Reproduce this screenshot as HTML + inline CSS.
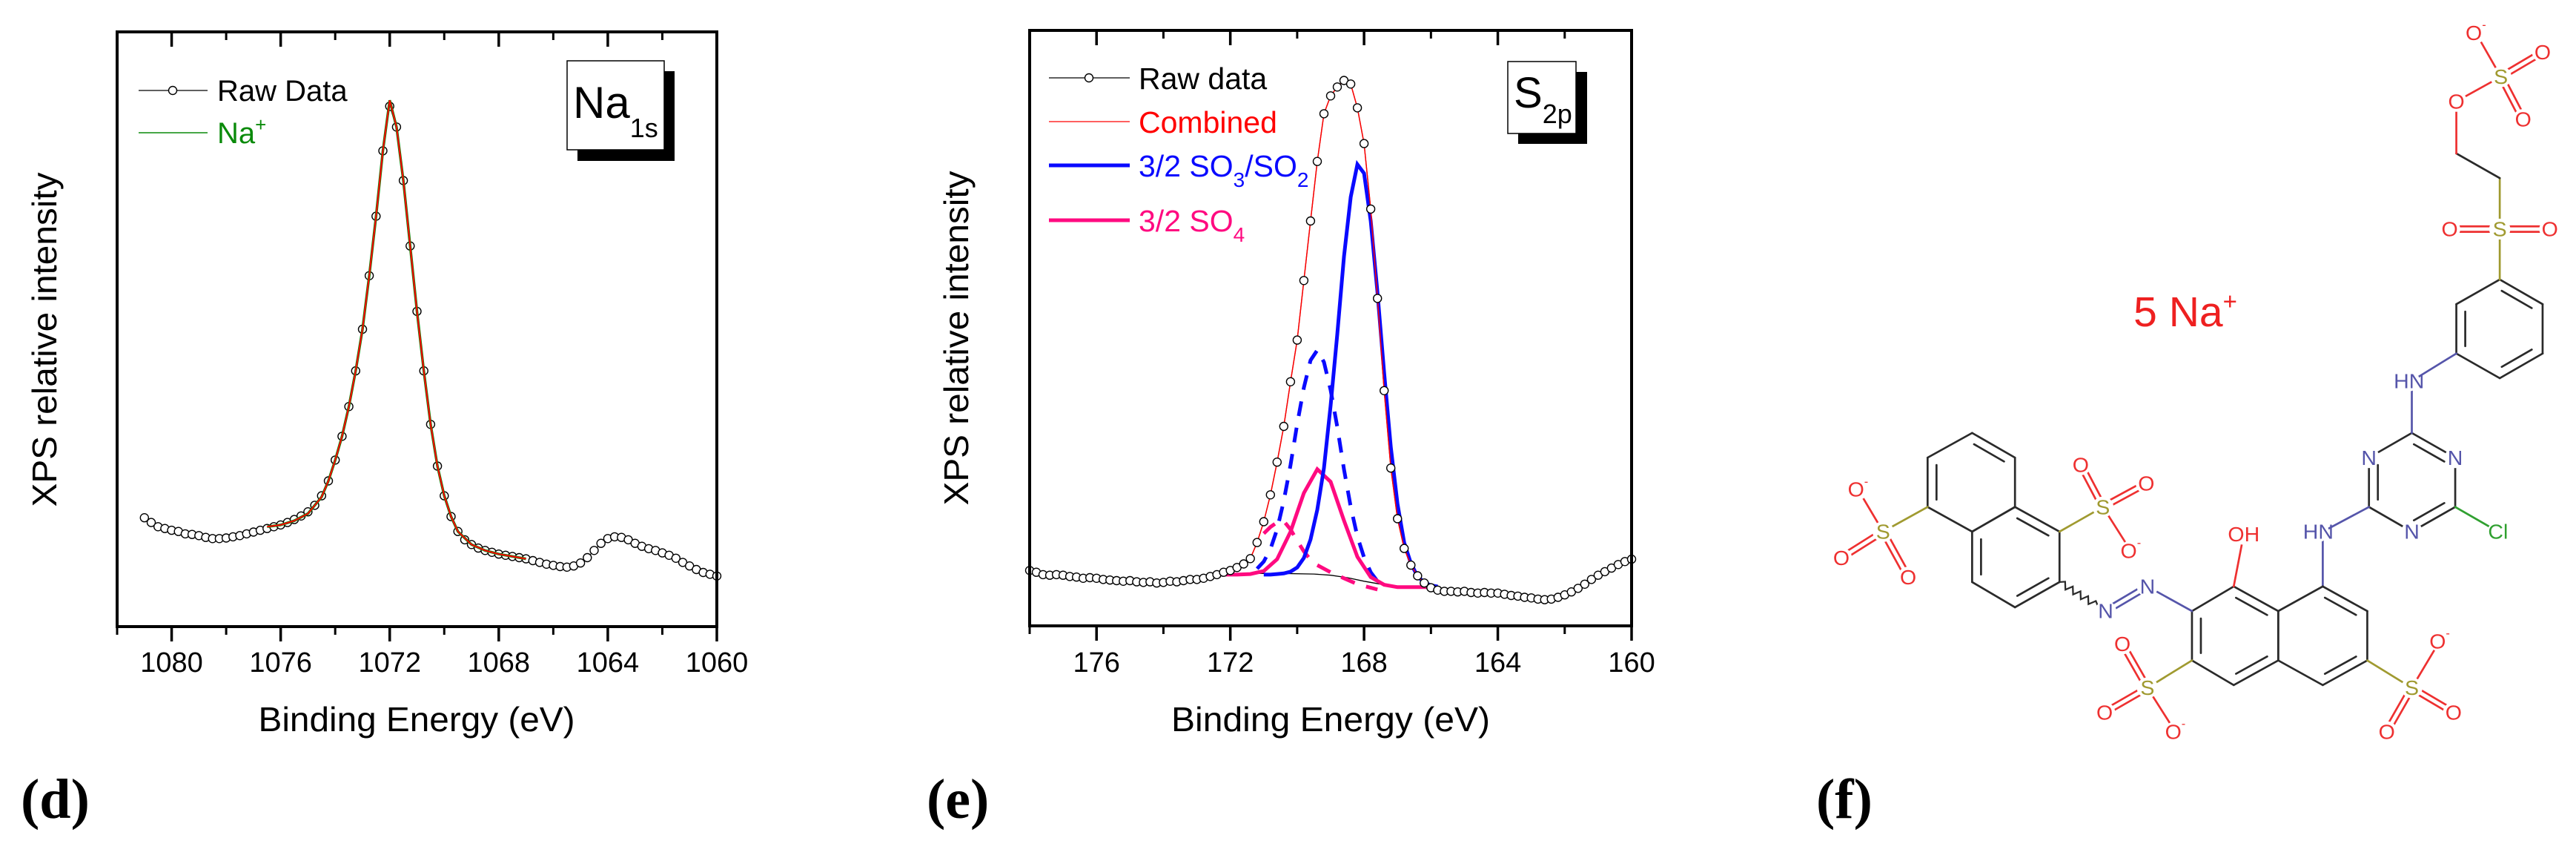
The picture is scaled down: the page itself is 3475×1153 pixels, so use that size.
<!DOCTYPE html>
<html><head><meta charset="utf-8"><style>
html,body{margin:0;padding:0;background:#fff;}
svg{display:block;font-family:"Liberation Sans",Arial,sans-serif;}
</style></head><body>
<svg id="fig" width="3475" height="1153" viewBox="0 0 3475 1153" xmlns="http://www.w3.org/2000/svg">
<rect x="0" y="0" width="3475" height="1153" fill="#fff"/>
<g id="panelD"></g>
<g id="panelE"></g>
<g id="mol" transform="translate(2300,0) scale(0.7508,0.7391)"></g>
<text x="28" y="1103" font-family="Liberation Serif,serif" font-weight="bold" font-size="76">(d)</text>
<text x="1250" y="1103" font-family="Liberation Serif,serif" font-weight="bold" font-size="76">(e)</text>
<text x="2450" y="1103" font-family="Liberation Serif,serif" font-weight="bold" font-size="76">(f)</text>
</svg>
<script>
// ---------- Panel d data (Na 1s) ----------
const naEnergy = [1081,1080.75,1080.5,1080.25,1080,1079.75,1079.5,1079.25,1079,1078.75,1078.5,1078.25,1078,1077.75,1077.5,1077.25,1077,1076.75,1076.5,1076.25,1076,1075.75,1075.5,1075.25,1075,1074.75,1074.5,1074.25,1074,1073.75,1073.5,1073.25,1073,1072.75,1072.5,1072.25,1072,1071.75,1071.5,1071.25,1071,1070.75,1070.5,1070.25,1070,1069.75,1069.5,1069.25,1069,1068.75,1068.5,1068.25,1068,1067.75,1067.5,1067.25,1067,1066.75,1066.5,1066.25,1066,1065.75,1065.5,1065.25,1065,1064.75,1064.5,1064.25,1064,1063.75,1063.5,1063.25,1063,1062.75,1062.5,1062.25,1062,1061.75,1061.5,1061.25,1061,1060.75,1060.5,1060.25,1060];
const naRaw = [18.3,17.5,16.8,16.5,16.2,16,15.6,15.5,15.3,15,14.8,14.8,14.9,15.1,15.3,15.6,15.9,16.2,16.5,16.8,17.1,17.5,18,18.6,19.3,20.4,22,24.5,28,32,37,43,50,59,69,80,87.5,84,75,64,53,43,34,27,22,18.5,16,14.6,13.8,13.2,12.8,12.5,12.2,12,11.8,11.6,11.4,11.1,10.8,10.5,10.3,10.1,10,10.2,10.7,11.6,12.8,14,14.8,15.1,15,14.6,14,13.5,13.1,12.8,12.4,12,11.5,10.8,10.2,9.6,9.1,8.8,8.5];
const naFitEnergy = [1076.5,1076,1075.5,1075,1074.5,1074.25,1074,1073.75,1073.5,1073.25,1073,1072.75,1072.5,1072.25,1072,1071.75,1071.5,1071.25,1071,1070.75,1070.5,1070.25,1070,1069.75,1069.5,1069,1068.5,1068,1067.5,1067];
const naFit = [16.8,17.1,17.8,19,21.8,24.5,28,32,37,43,50,59,69,80,88.5,84,75,64,53,43,34,27,22,18.5,16,13.8,12.8,12.2,11.8,11.4];
const naTicksMajor = [1080,1076,1072,1068,1064,1060];
const naTicksMinor = [1082,1078,1074,1070,1066,1062];

// ---------- Panel e data (S 2p) ----------
const sEnergy = [178,177.8,177.6,177.4,177.2,177,176.8,176.6,176.4,176.2,176,175.8,175.6,175.4,175.2,175,174.8,174.6,174.4,174.2,174,173.8,173.6,173.4,173.2,173,172.8,172.6,172.4,172.2,172,171.8,171.6,171.4,171.2,171,170.8,170.6,170.4,170.2,170,169.8,169.6,169.4,169.2,169,168.8,168.6,168.4,168.2,168,167.8,167.6,167.4,167.2,167,166.8,166.6,166.4,166.2,166,165.8,165.6,165.4,165.2,165,164.8,164.6,164.4,164.2,164,163.8,163.6,163.4,163.2,163,162.8,162.6,162.4,162.2,162,161.8,161.6,161.4,161.2,161,160.8,160.6,160.4,160.2,160];
const sRaw = [9.3,9.0,8.6,8.5,8.6,8.5,8.3,8.2,8.0,8.1,8.0,7.8,7.7,7.6,7.5,7.6,7.4,7.3,7.4,7.2,7.3,7.5,7.4,7.6,7.8,7.8,8.0,8.3,8.6,9.0,9.3,9.8,10.4,11.3,14.0,17.5,22,27.5,33.5,41,48,58,68,78,86,89,90.5,91.6,91,87,81,70,55,39.5,26.5,18,13,10.2,8.4,7.2,6.4,6.0,5.8,5.8,5.7,5.8,5.6,5.5,5.6,5.5,5.5,5.3,5.1,5.0,4.8,4.7,4.5,4.4,4.5,4.8,5.2,5.7,6.3,7.0,7.8,8.5,9.1,9.7,10.3,10.8,11.2];
const combEnergy = [172.2,172,171.8,171.6,171.4,171.2,171,170.8,170.6,170.4,170.2,170,169.8,169.6,169.4,169.2,169,168.8,168.6,168.4,168.2,168,167.8,167.6,167.4,167.2,167,166.8,166.6,166.4,166.2,166,165.8];
const combined = [9.0,9.3,9.8,10.4,11.3,14.0,17.5,22,27.5,33.5,41,48,58,68,78,86,89,90.5,91.6,91,87,81,70,55,39.5,26.5,18,13,10.2,8.4,7.2,6.4,6.0];
const so3Energy = [171.0,170.8,170.6,170.4,170.2,170.0,169.8,169.6,169.4,169.2,169.0,168.8,168.6,168.4,168.2,168.0,167.8,167.6,167.4,167.2,167.0,166.8,166.6,166.4,166.2,166.0,165.8];
const so3Main = [8.6,8.6,8.7,8.8,9.1,9.8,11.4,14.5,19.5,26.5,37,49,62,72,77.5,76,68,56,42.5,30,20.5,14,10.5,8.3,7.3,6.8,6.6];
const so3DashEnergy = [171.2,171.0,170.8,170.6,170.4,170.2,170.0,169.8,169.6,169.4,169.2,169.0,168.8,168.6,168.4,168.2,168.0,167.8,167.6];
const so3Doublet = [9.6,10.8,12.9,16.2,21,27,33.9,40,44.6,46.3,44.3,39.6,33.4,26.3,20,15,11.5,9,7.5];
const so4Energy = [172.2,171.8,171.4,171.0,170.6,170.2,169.8,169.4,169.0,168.6,168.2,167.8,167.4,167.0,166.6,166.2,165.8];
const so4Main = [8.6,8.6,8.7,9.2,11.2,15.8,22.3,26.3,24.2,17.7,11.6,8.2,6.9,6.5,6.5,6.5,6.5];
const so4DashEnergy = [171.0,170.8,170.6,170.4,170.2,170.0,169.8,169.6,169.4,169.0,168.6,168.2,167.8,167.6];
const so4Doublet = [15.5,16.6,17.4,17.6,16.2,14.3,12.5,11.1,10.2,9.0,8.0,7.0,6.4,6.1];
const bgEnergy = [172.4,171.5,170.5,169.5,169,168.5,168,167.5,167,166.5,165.9];
const background = [8.8,8.8,8.8,8.7,8.5,8.1,7.5,7.0,6.7,6.5,6.3];
const sTicksMajor = [176,172,168,164,160];
const sTicksMinor = [178,174,170,166,162];

const NS = "http://www.w3.org/2000/svg";
function mk(tag, attrs, parent){ const e=document.createElementNS(NS,tag); for(const k in attrs) e.setAttribute(k,attrs[k]); parent.appendChild(e); return e; }

const dL=158, dR=967, dT=43, dB=845;
function xD(E){ return dL + (1082 - E) * (dR - dL) / 22; }
function yD(v){ return dB - v * (dB - dT) / 100; }
const eL=1389, eR=2201, eT=41, eB=844;
function xE(E){ return eL + (178 - E) * (eR - eL) / 18; }
function yE(v){ return eB - v * (eB - eT) / 100; }

function pathFrom(xs, ys, fx, fy){ let d=''; for(let i=0;i<xs.length;i++){ d += (i?'L':'M') + fx(xs[i]).toFixed(1) + ',' + fy(ys[i]).toFixed(1); } return d; }

// ===== Panel D =====
const gD = document.getElementById('panelD');
let el;
el = mk('path',{d:pathFrom(naEnergy,naRaw,xD,yD),fill:'none',stroke:'#000','stroke-width':1.2},gD);


for(let i=0;i<naEnergy.length;i++){
  el = mk('circle',{cx:xD(naEnergy[i]).toFixed(1),cy:yD(naRaw[i]).toFixed(1),r:5.5,fill:'#fff',stroke:'#000','stroke-width':1.4},gD);
  
  
}
el = mk('path',{d:pathFrom(naFitEnergy,naFit,xD,yD),fill:'none',stroke:'#0a8a0a','stroke-width':3.5},gD);


el = mk('path',{d:pathFrom(naFitEnergy,naFit,xD,yD),fill:'none',stroke:'#ff0000','stroke-width':2},gD);


el = mk('rect',{x:dL,y:dT,width:dR-dL,height:dB-dT,fill:'none',stroke:'#000','stroke-width':4},gD);


for(const t of naTicksMajor){
  el = mk('line',{x1:xD(t),x2:xD(t),y1:dB,y2:dB+20,stroke:'#000','stroke-width':3.5},gD);
  
  
  el = mk('line',{x1:xD(t),x2:xD(t),y1:dT,y2:dT+20,stroke:'#000','stroke-width':3.5},gD);
  
  
  el = mk('text',{x:xD(t),y:906,'text-anchor':'middle','font-size':38},gD);
  el.textContent = t;
  
  
}
for(const t of naTicksMinor){
  el = mk('line',{x1:xD(t),x2:xD(t),y1:dB,y2:dB+11,stroke:'#000','stroke-width':3},gD);
  
  
  el = mk('line',{x1:xD(t),x2:xD(t),y1:dT,y2:dT+11,stroke:'#000','stroke-width':3},gD);
  
  
}
el = mk('text',{x:562,y:986,'text-anchor':'middle','font-size':46,textLength:427,lengthAdjust:'spacingAndGlyphs'},gD);
el.textContent='Binding Energy (eV)';


el = mk('text',{x:0,y:0,'text-anchor':'middle','font-size':46,textLength:451,lengthAdjust:'spacingAndGlyphs',transform:'translate(76,458) rotate(-90)'},gD);
el.textContent='XPS relative intensity';


el = mk('line',{x1:187,x2:280,y1:122,y2:122,stroke:'#000','stroke-width':1.3},gD);


el = mk('circle',{cx:233,cy:122,r:5.5,fill:'#fff',stroke:'#000','stroke-width':1.4},gD);


el = mk('text',{x:293,y:136,'font-size':40},gD);
el.textContent='Raw Data';


el = mk('line',{x1:187,x2:280,y1:179,y2:179,stroke:'#0a8a0a','stroke-width':1.5},gD);


el = mk('text',{x:293,y:193,'font-size':40,fill:'#0a8a0a'},gD);
el.innerHTML='Na<tspan dy="-16" font-size="26">+</tspan>';


el = mk('rect',{x:779,y:96,width:131,height:121,fill:'#000'},gD);


el = mk('rect',{x:765,y:82,width:131,height:120,fill:'#fff',stroke:'#000','stroke-width':1.5},gD);


el = mk('text',{x:773,y:159,'font-size':60},gD);
el.innerHTML='Na<tspan dy="26" font-size="36">1s</tspan>';



// ===== Panel E =====
const gE = document.getElementById('panelE');
el = mk('path',{d:pathFrom(sEnergy,sRaw,xE,yE),fill:'none',stroke:'#000','stroke-width':1.2},gE);


el = mk('path',{d:pathFrom(bgEnergy,background,xE,yE),fill:'none',stroke:'#000','stroke-width':1.3},gE);


el = mk('path',{d:pathFrom(so4DashEnergy,so4Doublet,xE,yE),fill:'none',stroke:'#ff0a80','stroke-width':5,'stroke-dasharray':'20,16'},gE);


el = mk('path',{d:pathFrom(so3DashEnergy,so3Doublet,xE,yE),fill:'none',stroke:'#0a0aff','stroke-width':5,'stroke-dasharray':'20,16'},gE);


el = mk('path',{d:pathFrom(so4Energy,so4Main,xE,yE),fill:'none',stroke:'#ff0a80','stroke-width':5},gE);


el = mk('path',{d:pathFrom(so3Energy,so3Main,xE,yE),fill:'none',stroke:'#0a0aff','stroke-width':5},gE);


el = mk('path',{d:pathFrom(combEnergy,combined,xE,yE),fill:'none',stroke:'#ff0000','stroke-width':1.5},gE);


for(let i=0;i<sEnergy.length;i++){
  el = mk('circle',{cx:xE(sEnergy[i]).toFixed(1),cy:yE(sRaw[i]).toFixed(1),r:5.5,fill:'#fff',stroke:'#000','stroke-width':1.4},gE);
  
  
}
el = mk('rect',{x:eL,y:eT,width:eR-eL,height:eB-eT,fill:'none',stroke:'#000','stroke-width':4},gE);


for(const t of sTicksMajor){
  el = mk('line',{x1:xE(t),x2:xE(t),y1:eB,y2:eB+20,stroke:'#000','stroke-width':3.5},gE);
  
  
  el = mk('line',{x1:xE(t),x2:xE(t),y1:eT,y2:eT+20,stroke:'#000','stroke-width':3.5},gE);
  
  
  el = mk('text',{x:xE(t),y:906,'text-anchor':'middle','font-size':38},gE);
  el.textContent = t;
  
  
}
for(const t of sTicksMinor){
  el = mk('line',{x1:xE(t),x2:xE(t),y1:eB,y2:eB+11,stroke:'#000','stroke-width':3},gE);
  
  
  el = mk('line',{x1:xE(t),x2:xE(t),y1:eT,y2:eT+11,stroke:'#000','stroke-width':3},gE);
  
  
}
el = mk('text',{x:1795,y:986,'text-anchor':'middle','font-size':46,textLength:430,lengthAdjust:'spacingAndGlyphs'},gE);
el.textContent='Binding Energy (eV)';


el = mk('text',{x:0,y:0,'text-anchor':'middle','font-size':46,textLength:451,lengthAdjust:'spacingAndGlyphs',transform:'translate(1306,456) rotate(-90)'},gE);
el.textContent='XPS relative intensity';


el = mk('line',{x1:1415,x2:1524,y1:105,y2:105,stroke:'#000','stroke-width':1.3},gE);


el = mk('circle',{cx:1469,cy:105,r:5.5,fill:'#fff',stroke:'#000','stroke-width':1.4},gE);


el = mk('text',{x:1536,y:120,'font-size':41},gE);
el.textContent='Raw data';


el = mk('line',{x1:1415,x2:1524,y1:164,y2:164,stroke:'#ff0000','stroke-width':1.2},gE);


el = mk('text',{x:1536,y:179,'font-size':41,fill:'#ff0000'},gE);
el.textContent='Combined';


el = mk('line',{x1:1415,x2:1524,y1:223,y2:223,stroke:'#0a0aff','stroke-width':5},gE);


el = mk('text',{x:1536,y:238,'font-size':41,fill:'#0a0aff'},gE);
el.innerHTML='3/2 SO<tspan dy="14" font-size="28">3</tspan><tspan dy="-14">/SO</tspan><tspan dy="14" font-size="28">2</tspan>';


el = mk('line',{x1:1415,x2:1524,y1:297,y2:297,stroke:'#ff0a80','stroke-width':5},gE);


el = mk('text',{x:1536,y:312,'font-size':41,fill:'#ff0a80'},gE);
el.innerHTML='3/2 SO<tspan dy="14" font-size="28">4</tspan>';


el = mk('rect',{x:2048,y:97,width:93,height:97,fill:'#000'},gE);


el = mk('rect',{x:2034,y:83,width:92,height:97,fill:'#fff',stroke:'#000','stroke-width':1.5},gE);


el = mk('text',{x:2042,y:145,'font-size':58},gE);
el.innerHTML='S<tspan dy="21" font-size="36">2p</tspan>';



// ===== Panel F: molecule =====
const gM = document.getElementById('mol');
const RED='#ee3030', BLUE='#5555aa', OLIVE='#a09a30', GRN='#30a030', DARK='#2a2a2a';
function bond(a,b,col){ el = mk('line',{x1:a[0],y1:a[1],x2:b[0],y2:b[1],stroke:col||DARK,'stroke-width':3.6,'stroke-linecap':'round'},gM); return el; }
function dbl(a,b,col){ const dx=b[0]-a[0], dy=b[1]-a[1], L=Math.hypot(dx,dy), ox=-dy/L*5, oy=dx/L*5;
  bond([a[0]+ox,a[1]+oy],[b[0]+ox,b[1]+oy],col); bond([a[0]-ox,a[1]-oy],[b[0]-ox,b[1]-oy],col); }
function inner(a,b,c){
  const mx=(a[0]+b[0])/2, my=(a[1]+b[1])/2, vx=c[0]-mx, vy=c[1]-my, L=Math.hypot(vx,vy);
  const ox=vx/L*16, oy=vy/L*16;
  const p=[a[0]+ox+(b[0]-a[0])*0.15, a[1]+oy+(b[1]-a[1])*0.15], q=[b[0]+ox-(b[0]-a[0])*0.15, b[1]+oy-(b[1]-a[1])*0.15];
  bond(p,q); }
function ring(pts, doubles){ for(let i=0;i<pts.length;i++) bond(pts[i],pts[(i+1)%pts.length]);
  const c=[pts.reduce((s,p)=>s+p[0],0)/pts.length, pts.reduce((s,p)=>s+p[1],0)/pts.length];
  for(const i of doubles) inner(pts[i],pts[(i+1)%pts.length],c); }
function label(p,txt,col,sup){ el = mk('circle',{cx:p[0],cy:p[1],r:19,fill:'#fff'},gM);
  const t = mk('text',{x:p[0],y:p[1]+13,'text-anchor':'middle','font-size':38,fill:col},gM);
  t.innerHTML = txt + (sup?'<tspan dy="-20" font-size="22">-</tspan>':''); return t; }
function sulfo(S, attach, oList){ bond(attach,S,OLIVE); for(const o of oList){ if(o[2]) dbl(S,o,RED); else bond(S,o,RED); } }
function wavy(a,b){ const dx=b[0]-a[0], dy=b[1]-a[1], L=Math.hypot(dx,dy), nx=-dy/L, ny=dx/L, n=10;
  let d='M'+a[0]+','+a[1];
  for(let i=1;i<=n;i++){ const f=i/n, s=(i===n)?0:((i%2)?6:-6); d+=' L'+(a[0]+dx*f+nx*s).toFixed(1)+','+(a[1]+dy*f+ny*s).toFixed(1); }
  return mk('path',{d:d,fill:'none',stroke:DARK,'stroke-width':3},gM); }

const B=[[1428,510],[1505,555],[1505,645],[1428,690],[1350,645],[1350,555]];
ring(B,[0,2,4]);
const S1=[1428,418]; bond(B[0],S1,OLIVE);
dbl(S1,[1338,418],RED); dbl(S1,[1518,418],RED);
bond(S1,[1428,325],OLIVE); bond([1428,325],[1350,280]); bond([1350,280],[1350,185],RED);
const S2=[1430,140]; bond([1350,185],S2,RED); bond(S2,[1385,60],RED); dbl(S2,[1505,95],RED); dbl(S2,[1470,218],RED);
const T=[[1270,790],[1348,835],[1348,925],[1270,970],[1193,925],[1193,835]];
ring(T,[0,2,4]);
bond(B[4],[1270,695],BLUE); bond([1270,695],T[0],BLUE);
bond(T[2],[1425,970],GRN);
bond(T[4],[1110,970],BLUE); bond([1110,970],[1110,1070],BLUE);
const R1=[[1110,1070],[1190,1115],[1190,1205],[1110,1250],[1030,1205],[1030,1115]];
const R2=[[1030,1115],[950,1070],[875,1115],[875,1205],[950,1250],[1030,1205]];
ring(R1,[0,2]); ring(R2,[0,2,4]);
bond(R2[1],[968,975],RED);
sulfo([1270,1255],R1[2],[[1320,1170,0],[1345,1300,1],[1225,1335,1]]);
sulfo([795,1255],R2[3],[[750,1175,1],[718,1300,1],[845,1335,0]]);
bond(R2[2],[795,1070],BLUE); dbl([795,1070],[720,1115],BLUE);
const A=[[480,790],[557,835],[557,925],[480,970],[400,925],[400,835]];
const C2=[[557,925],[637,970],[637,1062],[557,1108],[480,1062],[480,970]];
ring(A,[0,4]); ring(C2,[0,2,4]);
el = wavy([706,1106],C2[2]);


sulfo([715,925],C2[1],[[675,848,1],[793,882,1],[765,1005,0]]);
sulfo([320,970],A[4],[[275,893,0],[245,1018,1],[365,1053,1]]);
label([1338,418],'O',RED); label([1518,418],'O',RED); label(S1,'S',OLIVE);
label([1350,185],'O',RED); label(S2,'S',OLIVE); label([1385,60],'O',RED,true); label([1505,95],'O',RED); label([1470,218],'O',RED);
label([1265,695],'HN',BLUE); label(T[1],'N',BLUE); label(T[3],'N',BLUE); label(T[5],'N',BLUE);
label([1425,970],'Cl',GRN); label([1102,970],'HN',BLUE); label([968,975],'OH',RED);
label([1270,1255],'S',OLIVE); label([1320,1170],'O',RED,true); label([1345,1300],'O',RED); label([1225,1335],'O',RED);
label([795,1255],'S',OLIVE); label([750,1175],'O',RED); label([718,1300],'O',RED); label([845,1335],'O',RED,true);
label([795,1070],'N',BLUE); label([720,1115],'N',BLUE);
label([715,925],'S',OLIVE); label([675,848],'O',RED); label([793,882],'O',RED); label([765,1005],'O',RED,true);
label([320,970],'S',OLIVE); label([275,893],'O',RED,true); label([245,1018],'O',RED); label([365,1053],'O',RED);
el = mk('text',{x:770,y:595,'font-size':76,fill:'#ee2020'},gM);
el.innerHTML='5 Na<tspan dy="-30" font-size="44">+</tspan>';


</script>
</body></html>
